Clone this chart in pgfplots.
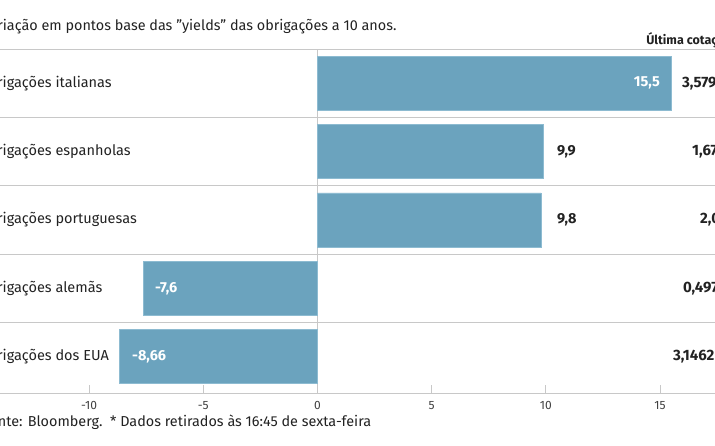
\documentclass[border=0pt]{standalone}
\usepackage{pgfplots}
\pgfplotsset{compat=1.18}
\usepackage{fontspec}
\setmainfont{Fira Sans}

\definecolor{barfill}{HTML}{6BA3BE}
\definecolor{baredge}{HTML}{8DBBD1}
\definecolor{gridgray}{HTML}{C8C8C8}
\definecolor{txt}{HTML}{222222}

\begin{document}
\begin{tikzpicture}
\begin{axis}[
	width=715pt,
	height=344.2pt,
	scale only axis,
	xmin=-13.897,
	xmax=17.408,
	ymin=-0.534,
	ymax=4.5,
	clip=false,
	axis x line*=bottom,
	axis y line=none,
	x axis line style={gridgray,line width=0.8pt,-},
	xtick={-10,-5,0,5,10,15},
	xticklabels={-10,-5,0,5,10,15},
	xtick style={gridgray,line width=0.8pt},
	tick align=inside,
	major tick length=8pt,
	xticklabel style={font=\fontsize{12}{14}\selectfont,text=black!75,yshift=-5pt},
	ytick=\empty,
	xbar,
	bar width=0.79,
	]

% separators and zero line
\draw[gridgray,line width=0.8pt] (axis cs:-13.897,4.5) -- (axis cs:17.408,4.5);
\draw[gridgray,line width=0.8pt] (axis cs:-13.897,3.5) -- (axis cs:17.408,3.5);
\draw[gridgray,line width=0.8pt] (axis cs:-13.897,2.5) -- (axis cs:17.408,2.5);
\draw[gridgray,line width=0.8pt] (axis cs:-13.897,1.5) -- (axis cs:17.408,1.5);
\draw[gridgray,line width=0.8pt] (axis cs:-13.897,0.5) -- (axis cs:17.408,0.5);
\draw[gridgray,line width=0.8pt] (axis cs:0,-0.534) -- (axis cs:0,4.5);

\addplot[fill=barfill,draw=baredge,line width=0.8pt]
coordinates {(15.5,4) (9.9,3) (9.8,2) (-7.6,1) (-8.66,0)};

% category labels
\begin{scope}[every node/.style={anchor=west,inner sep=0pt,text=txt,font=\fontsize{14.5}{17}\selectfont}]
\node at (axis cs:-14.85,4) {Obrigações italianas};
\node at (axis cs:-14.85,3) {Obrigações espanholas};
\node at (axis cs:-14.85,2) {Obrigações portuguesas};
\node at (axis cs:-14.85,1) {Obrigações alemãs};
\node at (axis cs:-14.85,0) {Obrigações dos EUA};
\end{scope}

% value labels
\begin{scope}[every node/.style={inner sep=0pt,font=\fontseries{sb}\selectfont\fontsize{14.5}{17}\selectfont}]
\node[anchor=east,text=white] at (axis cs:15.0,4) {15,5};
\node[anchor=west,text=txt] at (axis cs:10.49,3) {9,9};
\node[anchor=west,text=txt] at (axis cs:10.49,2) {9,8};
\node[anchor=west,text=white] at (axis cs:-7.11,1) {-7,6};
\node[anchor=west,text=white] at (axis cs:-8.12,0) {-8,66};
\end{scope}

% last quote column
\begin{scope}[every node/.style={anchor=west,inner sep=0pt,text=txt,font=\bfseries\fontsize{15}{17}\selectfont}]
\node at (axis cs:15.96,4) {3,579};
\node at (axis cs:16.40,3) {1,676};
\node at (axis cs:16.75,2) {2,045};
\node at (axis cs:16.00,1) {0,497};
\node at (axis cs:15.56,0) {3,1462};
\node[font=\bfseries\fontsize{12.5}{14}\selectfont] at (axis cs:14.39,4.629) {Última cotação*};
\end{scope}

% title and footer
\node[anchor=west,inner sep=0pt,text=txt,font=\fontsize{14.4}{17}\selectfont] at (axis cs:-14.69,4.82)
	{Variação em pontos base das \symbol{34}yields\symbol{34} das obrigações a 10 anos.};
\node[anchor=west,inner sep=0pt,text=txt,font=\fontsize{14.4}{17}\selectfont] at (axis cs:-14.65,-0.958)
	{Fonte: Bloomberg.\ \ * Dados retirados às 16:45 de sexta-feira};
\end{axis}
\pgfresetboundingbox
\path[use as bounding box] ([yshift=-52pt]current axis.south west) rectangle ([yshift=49pt]current axis.north east);
\end{tikzpicture}
\end{document}
